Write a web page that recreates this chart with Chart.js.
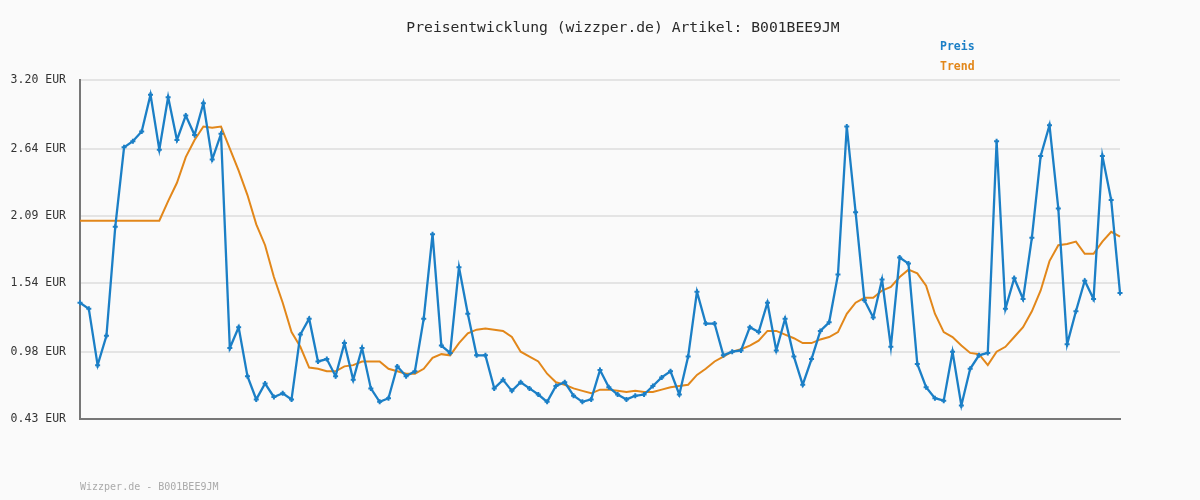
<!DOCTYPE html>
<html>
<head>
<meta charset="utf-8">
<script src="https://cdn.jsdelivr.net/npm/chart.js@4.4.0/dist/chart.umd.min.js"></script>
<style>
html, body { margin: 0; padding: 0; background: #fafafa; }
#wrap { width: 1200px; height: 500px; position: relative; }
</style>
</head>
<body>
<div id="wrap"><canvas id="preis-chart" width="1200" height="500"></canvas></div>
<script>
const chartTitle = 'Preisentwicklung (wizzper.de) Artikel: B001BEE9JM';
const footerText = 'Wizzper.de - B001BEE9JM';
const seriesNames = ['Preis', 'Trend'];
const yTicks = [0.43, 0.98, 1.54, 2.09, 2.64, 3.20];

const preisWerte = [
    1.38, 1.33, 0.87, 1.11, 2.00, 2.65, 2.70, 2.78, 3.08, 2.63,
    3.06, 2.71, 2.91, 2.75, 3.01, 2.55, 2.76, 1.01, 1.18, 0.78,
    0.59, 0.72, 0.61, 0.64, 0.59, 1.12, 1.25, 0.90, 0.92, 0.78,
    1.05, 0.75, 1.01, 0.68, 0.57, 0.60, 0.86, 0.78, 0.82, 1.25,
    1.94, 1.03, 0.97, 1.67, 1.29, 0.95, 0.95, 0.68, 0.75, 0.66,
    0.73, 0.68, 0.63, 0.57, 0.70, 0.73, 0.62, 0.57, 0.59, 0.83,
    0.69, 0.63, 0.59, 0.62, 0.63, 0.70, 0.77, 0.82, 0.63, 0.94,
    1.47, 1.21, 1.21, 0.95, 0.98, 0.99, 1.18, 1.14, 1.38, 0.99,
    1.25, 0.94, 0.71, 0.92, 1.15, 1.22, 1.61, 2.82, 2.12, 1.40,
    1.26, 1.57, 1.02, 1.75, 1.70, 0.88, 0.69, 0.60, 0.58, 0.98,
    0.54, 0.84, 0.95, 0.97, 2.70, 1.33, 1.58, 1.41, 1.91, 2.58,
    2.83, 2.15, 1.04, 1.31, 1.56, 1.41, 2.58, 2.22, 1.46
];

const trendWerte = [
    2.05, 2.05, 2.05, 2.05, 2.05, 2.05, 2.05, 2.05, 2.05, 2.05,
    2.21, 2.36, 2.57, 2.71, 2.82, 2.81, 2.82, 2.64, 2.46, 2.26,
    2.02, 1.85, 1.59, 1.38, 1.14, 1.02, 0.85, 0.84, 0.82, 0.82,
    0.86, 0.87, 0.90, 0.90, 0.90, 0.84, 0.82, 0.80, 0.80, 0.84,
    0.93, 0.96, 0.95, 1.05, 1.13, 1.16, 1.17, 1.16, 1.15, 1.10,
    0.98, 0.94, 0.90, 0.80, 0.73, 0.71, 0.68, 0.66, 0.64, 0.67,
    0.67, 0.66, 0.65, 0.66, 0.65, 0.65, 0.67, 0.69, 0.70, 0.71,
    0.79, 0.84, 0.90, 0.94, 0.98, 1.00, 1.03, 1.07, 1.15, 1.15,
    1.12, 1.09, 1.05, 1.05, 1.08, 1.10, 1.14, 1.29, 1.38, 1.42,
    1.42, 1.48, 1.51, 1.59, 1.65, 1.62, 1.52, 1.29, 1.14, 1.10,
    1.03, 0.97, 0.96, 0.87, 0.98, 1.02, 1.10, 1.18, 1.31, 1.48,
    1.72, 1.85, 1.86, 1.88, 1.78, 1.78, 1.88, 1.96, 1.92
];

const tage = preisWerte.map((_, i) => i + 1);

const farbePreis = '#1b7fc6';
const farbeTrend = '#e2871a';
const monoFont = '"DejaVu Sans Mono", "Liberation Mono", monospace';

// Hintergrund, Titel, Legende und Fusszeile
const textPlugin = {
    id: 'texte',
    beforeDraw(chart) {
        const ctx = chart.ctx;
        ctx.save();
        ctx.fillStyle = '#fafafa';
        ctx.fillRect(0, 0, chart.width, chart.height);
        ctx.restore();
    },
    afterDraw(chart) {
        const ctx = chart.ctx;
        ctx.save();
        ctx.textBaseline = 'middle';

        ctx.font = '14.7px ' + monoFont;
        ctx.fillStyle = '#2a2a2a';
        ctx.textAlign = 'center';
        ctx.fillText(chartTitle, 623, 28);

        ctx.textAlign = 'left';
        ctx.font = 'bold 11.5px ' + monoFont;
        ctx.fillStyle = farbePreis;
        ctx.fillText(seriesNames[0], 940, 47);
        ctx.fillStyle = farbeTrend;
        ctx.fillText(seriesNames[1], 940, 67);

        ctx.font = '10px ' + monoFont;
        ctx.fillStyle = '#aaaaaa';
        ctx.fillText(footerText, 80, 487);
        ctx.restore();
    }
};

const ctx = document.getElementById('preis-chart').getContext('2d');

new Chart(ctx, {
    type: 'line',
    data: {
        labels: tage,
        datasets: [
            {
                label: seriesNames[0],
                data: preisWerte,
                borderColor: farbePreis,
                backgroundColor: farbePreis,
                borderWidth: 2.3,
                pointStyle: 'cross',
                pointRadius: 2.5,
                pointBorderWidth: 2,
                tension: 0,
                order: 0
            },
            {
                label: seriesNames[1],
                data: trendWerte,
                borderColor: farbeTrend,
                backgroundColor: farbeTrend,
                borderWidth: 2,
                pointRadius: 0,
                tension: 0,
                order: 1
            }
        ]
    },
    options: {
        responsive: false,
        animation: false,
        layout: {
            padding: { left: 0, right: 80, top: 80, bottom: 81 }
        },
        plugins: {
            legend: { display: false },
            title: { display: false },
            tooltip: { enabled: false }
        },
        scales: {
            x: {
                offset: false,
                grid: { display: false, drawTicks: false },
                border: { display: true, color: '#777777', width: 2 },
                ticks: { display: false },
                afterFit: s => { s.height = 0; }
            },
            y: {
                min: yTicks[0],
                max: yTicks[yTicks.length - 1],
                afterBuildTicks: s => { s.ticks = yTicks.map(v => ({ value: v })); },
                afterFit: s => { s.width = 80; },
                grid: { color: '#e4e4e4', lineWidth: 2, drawTicks: false },
                border: { display: true, color: '#777777', width: 2 },
                ticks: {
                    padding: 14,
                    color: '#333333',
                    font: { family: monoFont, size: 11.5 },
                    callback: v => Number(v).toFixed(2) + ' EUR'
                }
            }
        }
    },
    plugins: [textPlugin]
});
</script>
</body>
</html>
